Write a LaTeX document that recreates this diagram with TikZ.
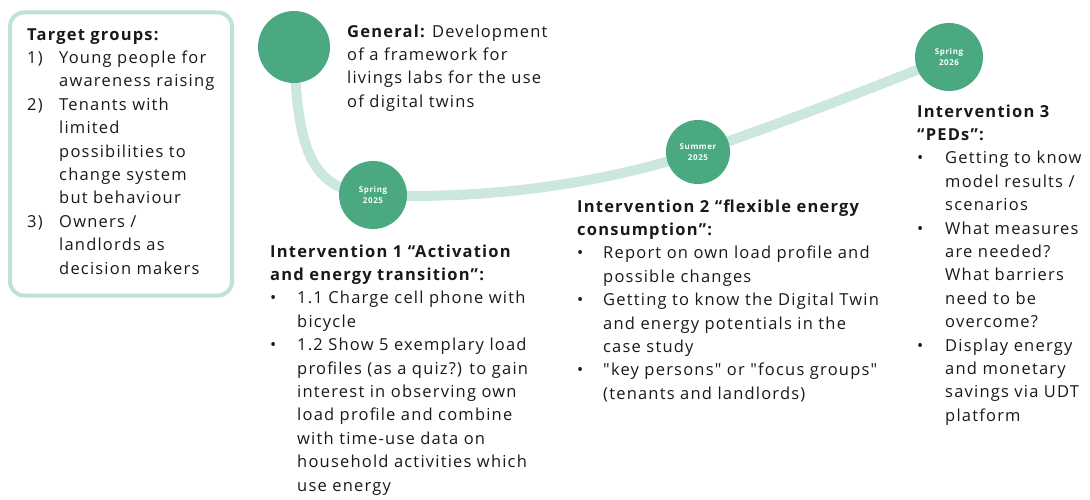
\documentclass[tikz,border=0pt]{standalone}
\usepackage{fontspec}
\setmainfont{Open Sans}[Ligatures=TeXOff,LetterSpace=7.3]
\usepackage{array}
\usetikzlibrary{backgrounds}
\definecolor{circ}{RGB}{74,169,129}
\definecolor{pathc}{RGB}{204,231,221}
\definecolor{boxc}{RGB}{190,226,213}
\definecolor{txt}{RGB}{25,25,25}
\begin{document}
\begin{tikzpicture}[x=1pt,y=-1pt,
  blk/.style={anchor=north west,inner sep=0pt,text=txt,font=\fontsize{16.5}{23.4}\selectfont},
  dot/.style={circle,fill=circ,minimum size=#1,inner sep=0pt,text=white,font=\bfseries\fontsize{8}{11}\selectfont,align=center},
  dot/.default=68pt,
  road/.style={line width=10pt,draw=pathc,line cap=round},
  frame/.style={draw=boxc,line width=4pt,rounded corners=14pt,minimum width=222pt,minimum height=283pt,inner sep=0pt}]
\useasboundingbox (0,0) rectangle (1090,500);

\node[frame] (box) at (121,154) {};
\node[blk] (tg) at (27,23.6) {\begin{tabular}[t]{@{}p{32pt}@{}l@{}}
\multicolumn{2}{@{}l@{}}{\bfseries Target groups:}\\
1) & Young people for\\
 & awareness raising\\
2) & Tenants with\\
 & limited\\
 & possibilities to\\
 & change system\\
 & but behaviour\\
3) & Owners /\\
 & landlords as\\
 & decision makers
\end{tabular}};

\node[dot=72pt] (g) at (294,47) {};
\node[dot] (s25) at (373,195) {Spring\\2025};
\node[dot=64pt] (su25) at (698,152) {Summer\\2025};
\node[dot] (s26) at (949,57) {Spring\\2026};

\begin{scope}[on background layer]
\draw[road] (g.center) .. controls (297,150) and (310,190) .. (s25.center);
\draw[road] (s25.center) .. controls (480,200) and (600,185) .. (su25.center);
\draw[road] (su25.center) .. controls (790,120) and (880,85) .. (s26.center);
\end{scope}

\node[blk] (gen) at (347,20.6) {\begin{tabular}[t]{@{}l@{}}
{\bfseries General:} Development\\
of a framework for\\
livings labs for the use\\
of digital twins
\end{tabular}};

\node[blk] (i1) at (270,240.6) {\begin{tabular}[t]{@{}p{27pt}@{}l@{}}
\multicolumn{2}{@{}l@{}}{\bfseries Intervention 1 “Activation}\\
\multicolumn{2}{@{}l@{}}{\bfseries and energy transition”:}\\
\textbullet & 1.1 Charge cell phone with\\
 & bicycle\\
\textbullet & 1.2 Show 5 exemplary load\\
 & profiles (as a quiz?) to gain\\
 & interest in observing own\\
 & load profile and combine\\
 & with time-use data on\\
 & household activities which\\
 & use energy
\end{tabular}};

\node[blk] (i2) at (577,195.6) {\begin{tabular}[t]{@{}p{26pt}@{}l@{}}
\multicolumn{2}{@{}l@{}}{\bfseries Intervention 2 “flexible energy}\\
\multicolumn{2}{@{}l@{}}{\bfseries consumption”:}\\
\textbullet & Report on own load profile and\\
 & possible changes\\
\textbullet & Getting to know the Digital Twin\\
 & and energy potentials in the\\
 & case study\\
\textbullet & "key persons" or "focus groups"\\
 & (tenants and landlords)
\end{tabular}};

\node[blk] (i3) at (917,100.6) {\begin{tabular}[t]{@{}p{28pt}@{}l@{}}
\multicolumn{2}{@{}l@{}}{\bfseries Intervention 3}\\
\multicolumn{2}{@{}l@{}}{\bfseries “PEDs”:}\\
\textbullet & Getting to know\\
 & model results /\\
 & scenarios\\
\textbullet & What measures\\
 & are needed?\\
 & What barriers\\
 & need to be\\
 & overcome?\\
\textbullet & Display energy\\
 & and monetary\\
 & savings via UDT\\
 & platform
\end{tabular}};
\end{tikzpicture}
\end{document}
